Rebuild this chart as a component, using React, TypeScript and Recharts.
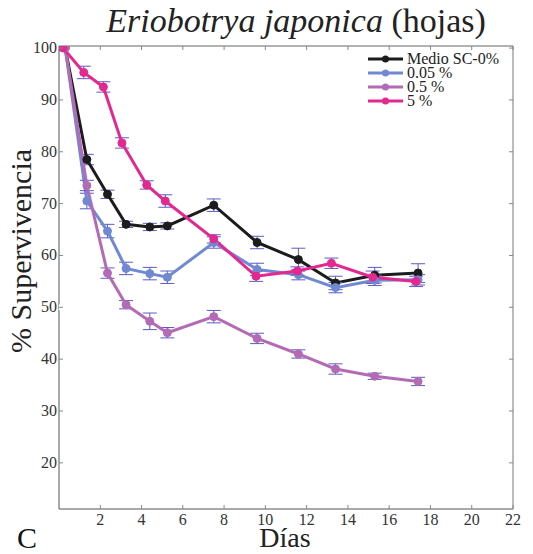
import React from "react";
import { LineChart, Line, XAxis, YAxis, ErrorBar } from "recharts";

// días de muestreo
const days = [0.3, 1.35, 2.35, 3.25, 4.4, 5.25, 7.5, 9.6, 11.6, 13.4, 15.3, 17.4];
const daysPink = [0.2, 1.2, 2.15, 3.05, 4.25, 5.15, 7.5, 9.55, 11.55, 13.2, 15.2, 17.3];

const medio = [100, 78.5, 71.8, 66, 65.5, 65.7, 69.7, 62.5, 59.2, 54.7, 56.2, 56.6];
const medioErr = [0, 1, 0.8, 0.6, 0.7, 0.6, 1.2, 1.2, 2.2, 1.3, 1.5, 1.8];
const c005 = [100, 70.5, 64.7, 57.5, 56.5, 55.8, 62.5, 57.3, 56.3, 53.8, 55.2, 55.3];
const c005Err = [0, 1.5, 1.3, 1.2, 1.2, 1.2, 1.1, 1.2, 1, 1, 1, 1];
const c05 = [100, 73.5, 56.6, 50.5, 47.3, 45.1, 48.2, 44, 41, 38.1, 36.7, 35.7];
const c05Err = [0, 1, 1, 0.8, 1.6, 1, 1.2, 1, 0.8, 1, 0.6, 0.8];
const c5 = [100, 95.3, 92.5, 81.7, 73.6, 70.5, 63.2, 56, 57, 58.5, 55.8, 55];
const c5Err = [0, 1.2, 1, 1, 0.8, 1.2, 0.8, 1, 0.8, 1, 1.2, 1];

const xTicks = [2, 4, 6, 8, 10, 12, 14, 16, 18, 20, 22];
const yTicks = [20, 30, 40, 50, 60, 70, 80, 90, 100];

const FONT = "'Liberation Serif', 'Times New Roman', serif";
const ERR = "#5b5bc4";

const series = [
  { name: "Medio SC-0%", color: "#1c1c1c", x: days, y: medio, e: medioErr },
  { name: "0.05 %", color: "#7089d2", x: days, y: c005, e: c005Err },
  { name: "0.5 %", color: "#b36bb5", x: days, y: c05, e: c05Err },
  { name: "5 %", color: "#e3288f", x: daysPink, y: c5, e: c5Err },
];

const build = (x: number[], y: number[], e: number[]) =>
  x.map((d, i) => ({ day: d, v: y[i], err: e[i] }));

const frameData = [{ day: 0, v: 50 }];

const BottomTick = (p: any) => (
  <g>
    <line x1={p.x} x2={p.x} y1={p.y} y2={p.y - 4} stroke="#888" />
    <text x={p.x} y={p.y + 16} textAnchor="middle" fontSize={16} fill="#333" style={{ fontFamily: FONT }}>
      {p.payload.value}
    </text>
  </g>
);
const TopTick = (p: any) => <line x1={p.x} x2={p.x} y1={p.y} y2={p.y + 4} stroke="#888" />;
const LeftTick = (p: any) => (
  <g>
    <line x1={p.x} x2={p.x + 4} y1={p.y} y2={p.y} stroke="#888" />
    <text x={p.x - 2} y={p.y + 5} textAnchor="end" fontSize={16} fill="#333" style={{ fontFamily: FONT }}>
      {p.payload.value}
    </text>
  </g>
);
const RightTick = (p: any) => <line x1={p.x} x2={p.x - 4} y1={p.y} y2={p.y} stroke="#888" />;

export default function App() {
  return (
    <div style={{ position: "absolute", left: 0, top: 0, width: 533, height: 554, background: "#fff" }}>
      <LineChart width={533} height={554} margin={{ top: 45, right: 19, bottom: 0, left: 0 }}>
        <text x={296} y={32} textAnchor="middle" fontSize={34} fill="#222" style={{ fontFamily: FONT }}>
          <tspan fontStyle="italic">Eriobotrya japonica</tspan>
          <tspan> (hojas)</tspan>
        </text>
        <text
          x={31}
          y={251}
          transform="rotate(-90 31 251)"
          textAnchor="middle"
          fontSize={30}
          fill="#222"
          style={{ fontFamily: FONT }}
        >
          % Supervivencia
        </text>
        <text x={285} y={547} textAnchor="middle" fontSize={28} fill="#222" style={{ fontFamily: FONT }}>
          Días
        </text>
        <text x={27} y={548} textAnchor="middle" fontSize={30} fill="#111" style={{ fontFamily: FONT }}>
          C
        </text>
        <XAxis
          xAxisId="b"
          dataKey="day"
          type="number"
          domain={[0, 22]}
          ticks={xTicks}
          height={45}
          stroke="#555"
          tickLine={false}
          tickSize={0}
          tickMargin={0}
          tick={<BottomTick />}
          allowDataOverflow
        />
        <XAxis
          xAxisId="t"
          dataKey="day"
          orientation="top"
          type="number"
          domain={[0, 22]}
          ticks={xTicks}
          height={1}
          stroke="#666"
          tickLine={false}
          tickSize={0}
          tickMargin={0}
          tick={<TopTick />}
          allowDataOverflow
        />
        <YAxis
          yAxisId="l"
          type="number"
          domain={[11.1, 100.4]}
          ticks={yTicks}
          width={59}
          stroke="#555"
          tickLine={false}
          tickSize={0}
          tickMargin={0}
          tick={<LeftTick />}
          allowDataOverflow
        />
        <YAxis
          yAxisId="r"
          orientation="right"
          type="number"
          domain={[11.1, 100.4]}
          ticks={yTicks}
          width={1}
          stroke="#777"
          tickLine={false}
          tickSize={0}
          tickMargin={0}
          tick={<RightTick />}
          allowDataOverflow
        />
        {/* serie invisible para que se dibujen los ejes superior y derecho */}
        <Line
          xAxisId="t"
          yAxisId="r"
          data={frameData}
          dataKey="v"
          stroke="none"
          dot={false}
          legendType="none"
          isAnimationActive={false}
        />
        {series.map((s) => (
          <Line
            key={s.name}
            xAxisId="b"
            yAxisId="l"
            data={build(s.x, s.y, s.e)}
            dataKey="v"
            name={s.name}
            stroke={s.color}
            strokeWidth={3}
            dot={{ r: 4, fill: s.color, stroke: s.color, strokeWidth: 1 }}
            isAnimationActive={false}
          >
            <ErrorBar dataKey="err" direction="y" width={7} stroke={ERR} strokeWidth={1} isAnimationActive={false} />
          </Line>
        ))}
        <g>
          {series.map((s, i) => (
            <g key={s.name} transform={`translate(360, ${59 + i * 14})`}>
              <line x1={8} x2={43} y1={0} y2={0} stroke={s.color} strokeWidth={3} />
              <circle cx={25.5} cy={0} r={3.5} fill={s.color} />
              <text x={47} y={5} fontSize={16} fill="#222" style={{ fontFamily: FONT }}>
                {s.name}
              </text>
            </g>
          ))}
        </g>
      </LineChart>
    </div>
  );
}
